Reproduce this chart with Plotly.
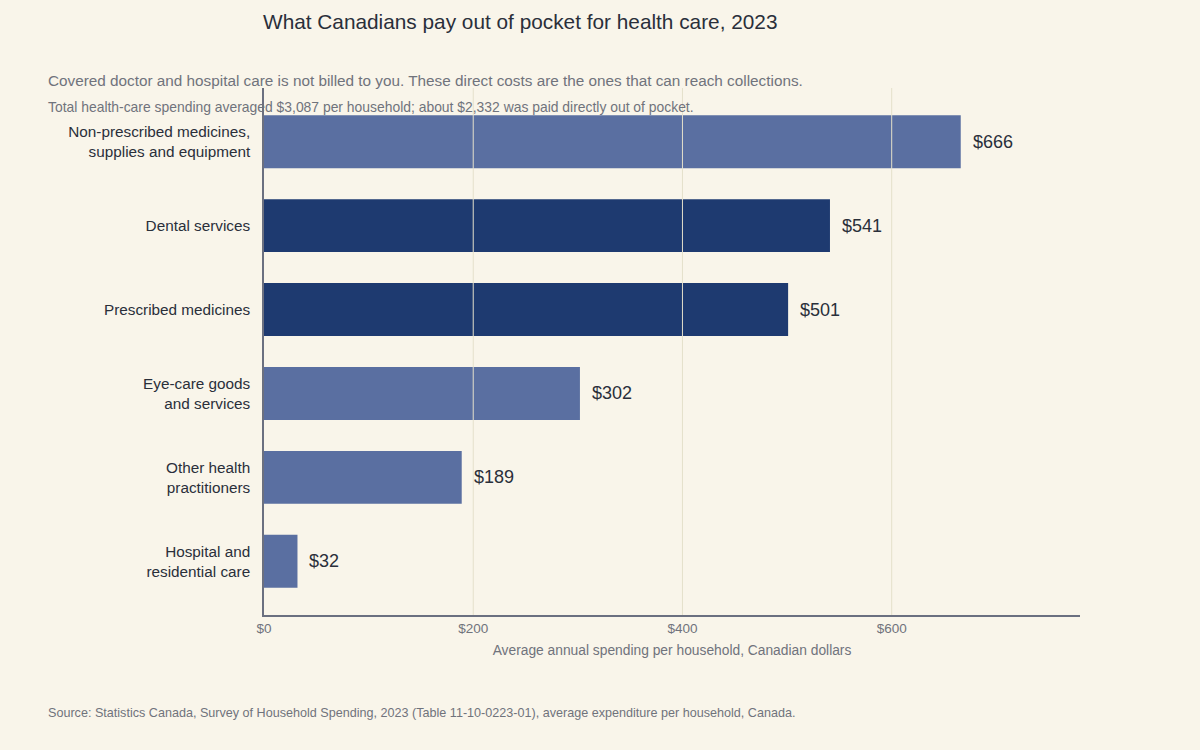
import plotly.graph_objects as go

categories = [
    "Non-prescribed medicines,<br>supplies and equipment",
    "Dental services",
    "Prescribed medicines",
    "Eye-care goods<br>and services",
    "Other health<br>practitioners",
    "Hospital and<br>residential care",
]
values = [666, 541, 501, 302, 189, 32]
highlight = [False, True, True, False, False, False]
tick_vals = [0, 200, 400, 600]
tick_text = ["$0", "$200", "$400", "$600"]

LIGHT = "#5a6fa1"
DARK = "#1e3a70"
TEXT = "#2a2f3a"
GRAY = "#70737c"
BG = "#f9f5ea"
GRID = "#e4e0cb"
FONT = "Liberation Sans, Arial, sans-serif"

colors = [DARK if h else LIGHT for h in highlight]

fig = go.Figure(
    go.Bar(
        x=values,
        y=categories,
        orientation="h",
        marker=dict(color=colors, line=dict(width=0)),
        width=0.63,
        hoverinfo="skip",
    )
)

PLOT_TOP = 88
PLOT_BOTTOM = 615
H = PLOT_BOTTOM - PLOT_TOP


def py(pix):
    return (PLOT_BOTTOM - pix) / H


annotations = [
    dict(
        x=v, y=c, xref="x", yref="y",
        text=f"${v}",
        showarrow=False,
        xanchor="left", yanchor="middle",
        xshift=10,
        font=dict(size=18, color=TEXT, family=FONT),
    )
    for v, c in zip(values, categories)
]

annotations += [
    dict(
        text="Covered doctor and hospital care is not billed to you. These direct costs are the ones that can reach collections.",
        xref="paper", yref="paper",
        x=(46 - 264) / 816, y=py(80),
        xanchor="left", yanchor="middle",
        showarrow=False,
        font=dict(size=15.3, color=GRAY),
    ),
    dict(
        text="Total health-care spending averaged $3,087 per household; about $2,332 was paid directly out of pocket.",
        xref="paper", yref="paper",
        x=(46 - 264) / 816, y=py(107),
        xanchor="left", yanchor="middle",
        showarrow=False,
        font=dict(size=13.9, color=GRAY),
    ),
    dict(
        text="Source: Statistics Canada, Survey of Household Spending, 2023 (Table 11-10-0223-01), average expenditure per household, Canada.",
        xref="paper", yref="paper",
        x=(46 - 264) / 816, y=py(713),
        xanchor="left", yanchor="middle",
        showarrow=False,
        font=dict(size=12.6, color=GRAY),
    ),
]

shapes = [
    dict(
        type="line", xref="x", yref="paper",
        x0=t, x1=t, y0=0, y1=1,
        line=dict(color=GRID, width=1),
        layer="above",
    )
    for t in tick_vals[1:]
]

fig.update_layout(
    width=1200,
    height=750,
    paper_bgcolor=BG,
    plot_bgcolor=BG,
    margin=dict(l=264, r=120, t=PLOT_TOP, b=750 - PLOT_BOTTOM, pad=0),
    font=dict(family=FONT, color=TEXT),
    showlegend=False,
    title=dict(
        text="What Canadians pay out of pocket for health care, 2023",
        x=263 / 1200,
        xanchor="left",
        y=1 - 22 / 750,
        yanchor="middle",
        font=dict(size=20.8, color=TEXT),
    ),
    xaxis=dict(
        range=[0, 780],
        tickvals=tick_vals,
        ticktext=tick_text,
        tickfont=dict(size=13.5, color=GRAY),
        showgrid=False,
        zeroline=False,
        showline=True,
        linecolor="#6b7080",
        linewidth=1.5,
        ticks="",
        title=dict(
            text="Average annual spending per household, Canadian dollars",
            font=dict(size=13.8, color=GRAY),
            standoff=10,
        ),
    ),
    yaxis=dict(
        categoryorder="array",
        categoryarray=categories,
        range=[5.64, -0.64],
        showgrid=False,
        zeroline=False,
        showline=True,
        linecolor="#6b7080",
        linewidth=1.5,
        ticks="",
        ticklabelstandoff=9,
        tickfont=dict(size=15.3, color=TEXT),
    ),
    shapes=shapes,
    annotations=annotations,
)

fig.write_html("out.html")
